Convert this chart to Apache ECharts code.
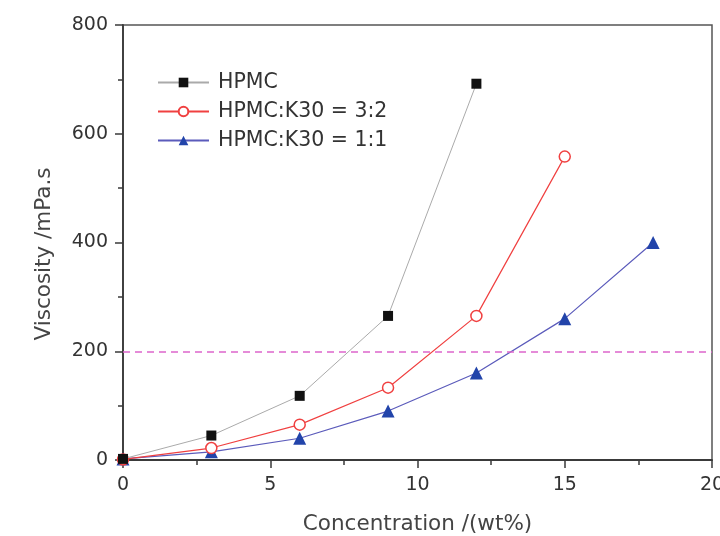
<!DOCTYPE html>
<html>
<head>
<meta charset="utf-8">
<script src="https://cdn.jsdelivr.net/npm/echarts@6/dist/echarts.min.js"></script>
<style>
  html, body { margin: 0; padding: 0; background: #fff; }
  #main { width: 720px; height: 536px; }
</style>
</head>
<body>
<div id="main"></div>
<script>
// 数据
var conc = [0, 3, 6, 9, 12, 15, 18];
var hpmc = [2, 45, 118, 265, 692];
var k30_32 = [1, 22, 65, 133, 265, 558];
var k30_11 = [2, 15, 40, 90, 160, 260, 400];
var refLine = 200;

function pairs(vals) { // 浓度和粘度配对
    var res = [];
    for (var i = 0; i < vals.length; i++) {
        res.push([conc[i], vals[i]]);
    }
    return res;
}

var chart = echarts.init(document.getElementById('main'));
var font = 'DejaVu Sans, sans-serif';
var axisColor = '#3a3a3a';

var option = {
    backgroundColor: '#fff',
    animation: false,
    grid: {
        left: 123, right: 8, top: 25, bottom: 76,
        outerBoundsMode: 'none',
        show: true, borderColor: '#555', borderWidth: 1.5
    },
    legend: {
        orient: 'vertical',
        left: 152, top: 67,
        itemWidth: 51, itemHeight: 12, itemGap: 8,
        textStyle: { fontSize: 20.5, color: '#333', fontFamily: font, padding: [0, 0, 0, 4] },
        data: ['HPMC', 'HPMC:K30 = 3:2', 'HPMC:K30 = 1:1']
    },
    xAxis: {
        type: 'value', min: 0, max: 20, interval: 5,
        name: 'Concentration /(wt%)', nameLocation: 'middle', nameGap: 53,
        nameTextStyle: { fontSize: 21.5, color: '#444', fontFamily: font },
        axisLine: { show: true, lineStyle: { color: axisColor, width: 1.8 } },
        axisTick: { show: true, length: 8, lineStyle: { color: axisColor, width: 1.5 } },
        minorTick: { show: true, splitNumber: 2, length: 5, lineStyle: { color: axisColor, width: 1.5 } },
        axisLabel: { fontSize: 19, color: '#333', margin: 16, fontFamily: font },
        splitLine: { show: false }
    },
    yAxis: {
        type: 'value', min: 0, max: 800, interval: 200,
        name: 'Viscosity /mPa.s', nameLocation: 'middle', nameGap: 68,
        nameTextStyle: { fontSize: 21.5, color: '#444', fontFamily: font, padding: [0, 23, 0, 0] },
        axisLine: { show: true, lineStyle: { color: axisColor, width: 1.8 } },
        axisTick: { show: true, length: 8, lineStyle: { color: axisColor, width: 1.5 } },
        minorTick: { show: true, splitNumber: 2, length: 5, lineStyle: { color: axisColor, width: 1.5 } },
        axisLabel: { fontSize: 19, color: '#333', margin: 15, fontFamily: font },
        splitLine: { show: false }
    },
    series: [{
        name: 'HPMC', type: 'line',
        data: pairs(hpmc),
        symbol: 'rect', symbolSize: 10,
        itemStyle: { color: '#111' },
        lineStyle: { color: '#aaa', width: 1 },
        z: 4
    }, {
        name: 'HPMC:K30 = 3:2', type: 'line',
        data: pairs(k30_32),
        symbol: 'circle', symbolSize: 11,
        itemStyle: { color: '#fff', borderColor: '#f04040', borderWidth: 1.5 },
        lineStyle: { color: '#f04040', width: 1.2 },
        z: 3
    }, {
        name: 'HPMC:K30 = 1:1', type: 'line',
        data: pairs(k30_11),
        symbol: 'triangle', symbolSize: 13,
        itemStyle: { color: '#2244aa' },
        lineStyle: { color: '#5b5bbb', width: 1.2 },
        z: 2,
        markLine: {
            silent: true, symbol: 'none', label: { show: false },
            lineStyle: { color: '#dd66cc', type: [7, 5], width: 1.5 },
            data: [{ yAxis: refLine }]
        }
    }]
};
chart.setOption(option);
</script>
</body>
</html>
